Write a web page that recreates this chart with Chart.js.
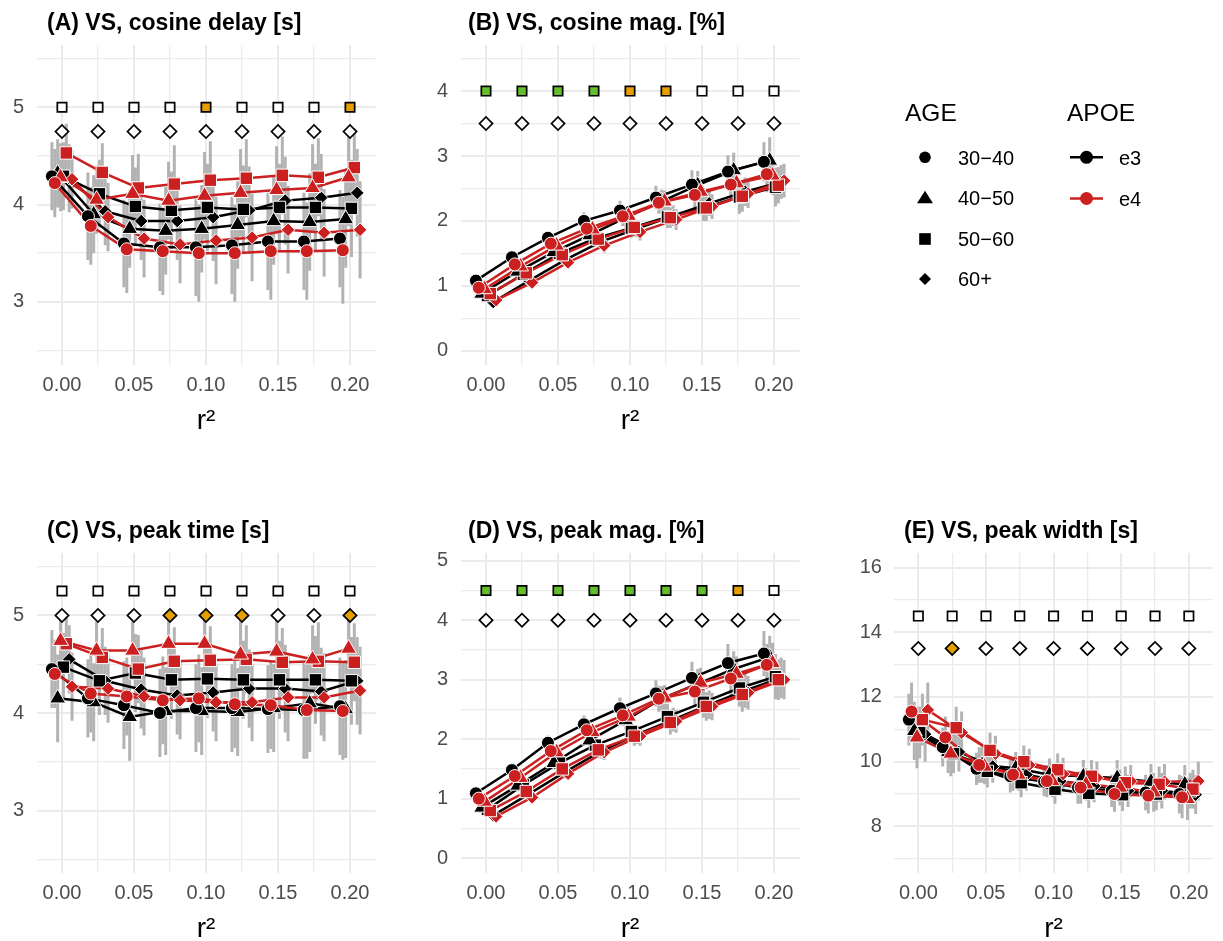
<!DOCTYPE html>
<html>
<head>
<meta charset="utf-8">
<script src="https://cdn.jsdelivr.net/npm/chart.js@4.4.1/dist/chart.umd.min.js"></script>
<style>
  html, body { margin: 0; padding: 0; background: #ffffff; }
  #wrap { position: relative; width: 1223px; height: 941px; overflow: hidden; background: #ffffff; }
  #wrap canvas, #wrap svg { position: absolute; }
</style>
</head>
<body>
<div id="wrap">
  <canvas id="cA" width="400" height="445" style="left:0px;top:0px"></canvas>
  <canvas id="cB" width="410" height="445" style="left:400px;top:0px"></canvas>
  <canvas id="cC" width="400" height="445" style="left:0px;top:508px"></canvas>
  <canvas id="cD" width="410" height="445" style="left:400px;top:508px"></canvas>
  <canvas id="cE" width="403" height="445" style="left:820px;top:508px"></canvas>
  <svg id="legend" width="1223" height="360" style="left:0px;top:0px"></svg>
</div>
<script>
// ---- categories -------------------------------------------------------
const R2 = [0, 0.025, 0.05, 0.075, 0.1, 0.125, 0.15, 0.175, 0.2];
const AGE_GROUPS = ['30\u221240', '40\u221250', '50\u221260', '60+'];
const APOE_LEVELS = ['e3', 'e4'];

// ---- (A) cosine delay [s]: rows = age groups -------------------------
const cosDelay_e3 = [
  [4.29, 3.88, 3.60, 3.56, 3.56, 3.58, 3.62, 3.62, 3.65],
  [4.32, 3.90, 3.75, 3.73, 3.75, 3.79, 3.83, 3.82, 3.85],
  [4.29, 4.11, 3.98, 3.94, 3.97, 3.95, 3.97, 3.97, 3.96],
  [4.27, 3.93, 3.83, 3.83, 3.87, 3.94, 4.04, 4.07, 4.12]
];
const cosDelay_e4 = [
  [4.22, 3.78, 3.54, 3.52, 3.50, 3.50, 3.52, 3.52, 3.53],
  [4.28, 4.05, 4.11, 4.04, 4.09, 4.12, 4.15, 4.17, 4.28],
  [4.53, 4.33, 4.17, 4.21, 4.25, 4.27, 4.30, 4.28, 4.38],
  [4.26, 3.87, 3.65, 3.59, 3.63, 3.66, 3.74, 3.71, 3.74]
];
const cosDelay_e3_err = [
  [0.35, 0.45, 0.45, 0.45, 0.50, 0.50, 0.50, 0.50, 0.50],
  [0.35, 0.40, 0.40, 0.45, 0.45, 0.45, 0.45, 0.50, 0.50],
  [0.35, 0.35, 0.40, 0.40, 0.45, 0.45, 0.45, 0.45, 0.50],
  [0.35, 0.35, 0.40, 0.40, 0.45, 0.45, 0.45, 0.45, 0.45]
];
const cosDelay_e4_err = [
  [0.35, 0.40, 0.45, 0.45, 0.50, 0.50, 0.50, 0.50, 0.55],
  [0.35, 0.35, 0.40, 0.40, 0.45, 0.45, 0.45, 0.45, 0.50],
  [0.30, 0.30, 0.35, 0.40, 0.40, 0.40, 0.40, 0.40, 0.40],
  [0.30, 0.35, 0.40, 0.40, 0.45, 0.45, 0.45, 0.45, 0.50]
];
const cosDelay_testSq = [0, 0, 0, 0, 1, 0, 0, 0, 1];
const cosDelay_testDi = [0, 0, 0, 0, 0, 0, 0, 0, 0];

// ---- (B) cosine magnitude [%] -----------------------------------------
const cosMag_e3 = [
  [1.08, 1.44, 1.74, 2.00, 2.16, 2.36, 2.56, 2.76, 2.91],
  [0.88, 1.22, 1.52, 1.78, 2.05, 2.30, 2.55, 2.78, 2.93],
  [0.85, 1.18, 1.50, 1.73, 1.89, 2.06, 2.20, 2.37, 2.52],
  [0.75, 1.08, 1.40, 1.68, 1.88, 2.08, 2.27, 2.45, 2.60]
];
const cosMag_e4 = [
  [0.97, 1.33, 1.65, 1.88, 2.07, 2.28, 2.40, 2.56, 2.72],
  [0.95, 1.30, 1.62, 1.87, 2.08, 2.30, 2.45, 2.58, 2.70],
  [0.88, 1.20, 1.48, 1.72, 1.90, 2.05, 2.20, 2.38, 2.55],
  [0.78, 1.05, 1.36, 1.62, 1.83, 2.02, 2.22, 2.42, 2.62]
];
const cosMag_e3_err = [
  [0.06, 0.08, 0.10, 0.13, 0.15, 0.18, 0.22, 0.25, 0.30],
  [0.05, 0.08, 0.10, 0.12, 0.15, 0.18, 0.22, 0.27, 0.36],
  [0.05, 0.08, 0.10, 0.12, 0.15, 0.17, 0.20, 0.26, 0.30],
  [0.05, 0.07, 0.09, 0.11, 0.13, 0.16, 0.19, 0.22, 0.26]
];
const cosMag_e4_err = [
  [0.06, 0.08, 0.10, 0.12, 0.15, 0.17, 0.20, 0.24, 0.28],
  [0.05, 0.07, 0.09, 0.12, 0.14, 0.17, 0.20, 0.24, 0.30],
  [0.05, 0.07, 0.09, 0.11, 0.14, 0.16, 0.20, 0.24, 0.28],
  [0.05, 0.07, 0.09, 0.11, 0.13, 0.16, 0.19, 0.22, 0.26]
];
const cosMag_testSq = [2, 2, 2, 2, 1, 1, 0, 0, 0];
const cosMag_testDi = [0, 0, 0, 0, 0, 0, 0, 0, 0];

// ---- (C) peak time [s] ------------------------------------------------
const peakTime_e3 = [
  [4.45, 4.15, 4.08, 4.00, 4.05, 4.05, 4.04, 4.03, 4.07],
  [4.15, 4.11, 3.96, 4.02, 4.02, 4.01, 4.05, 4.10, 4.04],
  [4.47, 4.33, 4.41, 4.34, 4.35, 4.34, 4.34, 4.34, 4.33],
  [4.55, 4.33, 4.24, 4.18, 4.21, 4.25, 4.25, 4.22, 4.33]
];
const peakTime_e4 = [
  [4.40, 4.20, 4.17, 4.13, 4.15, 4.09, 4.08, 4.03, 4.02],
  [4.74, 4.64, 4.64, 4.71, 4.71, 4.60, 4.63, 4.55, 4.66],
  [4.71, 4.57, 4.45, 4.53, 4.54, 4.55, 4.52, 4.53, 4.52],
  [4.27, 4.25, 4.17, 4.13, 4.11, 4.11, 4.16, 4.16, 4.23]
];
const peakTime_e3_err = [
  [0.40, 0.40, 0.45, 0.45, 0.45, 0.45, 0.45, 0.50, 0.50],
  [0.45, 0.40, 0.45, 0.45, 0.45, 0.45, 0.45, 0.50, 0.50],
  [0.35, 0.35, 0.40, 0.40, 0.40, 0.40, 0.40, 0.45, 0.45],
  [0.35, 0.35, 0.40, 0.40, 0.40, 0.40, 0.45, 0.45, 0.45]
];
const peakTime_e4_err = [
  [0.35, 0.40, 0.40, 0.45, 0.45, 0.45, 0.45, 0.50, 0.50],
  [0.30, 0.30, 0.30, 0.30, 0.30, 0.35, 0.35, 0.35, 0.35],
  [0.30, 0.30, 0.35, 0.35, 0.35, 0.35, 0.35, 0.40, 0.40],
  [0.35, 0.35, 0.40, 0.40, 0.40, 0.40, 0.45, 0.45, 0.45]
];
const peakTime_testSq = [0, 0, 0, 0, 0, 0, 0, 0, 0];
const peakTime_testDi = [0, 0, 0, 1, 1, 1, 0, 0, 1];

// ---- (D) peak magnitude [%] -------------------------------------------
const peakMag_e3 = [
  [1.09, 1.48, 1.94, 2.25, 2.52, 2.77, 3.03, 3.28, 3.44],
  [0.85, 1.22, 1.60, 1.98, 2.32, 2.68, 2.93, 3.18, 3.38],
  [0.82, 1.23, 1.60, 1.90, 2.13, 2.38, 2.62, 2.86, 3.05],
  [0.72, 1.08, 1.45, 1.80, 2.08, 2.33, 2.58, 2.82, 3.03]
];
const peakMag_e4 = [
  [1.00, 1.38, 1.80, 2.15, 2.40, 2.68, 2.80, 3.02, 3.25],
  [0.95, 1.35, 1.78, 2.12, 2.38, 2.70, 2.95, 3.10, 3.28],
  [0.80, 1.12, 1.50, 1.82, 2.05, 2.28, 2.55, 2.75, 3.00],
  [0.70, 1.02, 1.42, 1.78, 2.05, 2.30, 2.55, 2.78, 3.00]
];
const peakMag_e3_err = [
  [0.06, 0.09, 0.12, 0.15, 0.18, 0.22, 0.27, 0.32, 0.38],
  [0.05, 0.08, 0.11, 0.14, 0.17, 0.21, 0.25, 0.30, 0.36],
  [0.05, 0.08, 0.11, 0.14, 0.17, 0.21, 0.26, 0.31, 0.38],
  [0.05, 0.08, 0.10, 0.13, 0.16, 0.20, 0.24, 0.29, 0.34]
];
const peakMag_e4_err = [
  [0.06, 0.09, 0.12, 0.15, 0.18, 0.22, 0.26, 0.30, 0.35],
  [0.05, 0.08, 0.11, 0.14, 0.17, 0.21, 0.25, 0.29, 0.34],
  [0.05, 0.08, 0.10, 0.13, 0.16, 0.20, 0.24, 0.29, 0.34],
  [0.05, 0.07, 0.10, 0.13, 0.16, 0.19, 0.23, 0.28, 0.33]
];
const peakMag_testSq = [2, 2, 2, 2, 2, 2, 2, 1, 0];
const peakMag_testDi = [0, 0, 0, 0, 0, 0, 0, 0, 0];

// ---- (E) peak width [s] -----------------------------------------------
const peakWidth_e3 = [
  [11.30, 10.45, 9.78, 9.55, 9.38, 9.20, 9.10, 9.05, 9.00],
  [10.95, 10.30, 9.90, 9.80, 9.60, 9.55, 9.50, 9.38, 9.30],
  [10.90, 10.25, 9.70, 9.35, 9.15, 9.02, 8.98, 9.00, 9.10],
  [10.85, 10.30, 9.85, 9.60, 9.40, 9.25, 9.10, 9.10, 8.98]
];
const peakWidth_e4 = [
  [11.55, 10.75, 9.90, 9.60, 9.40, 9.20, 9.00, 8.95, 8.90],
  [10.75, 10.25, 9.85, 9.60, 9.40, 9.30, 9.20, 9.05, 8.85],
  [11.30, 11.05, 10.35, 10.00, 9.75, 9.55, 9.35, 9.30, 9.15],
  [11.60, 10.90, 10.25, 9.90, 9.62, 9.50, 9.40, 9.38, 9.40]
];
const peakWidth_e3_err = [
  [0.80, 0.60, 0.50, 0.50, 0.45, 0.50, 0.50, 0.55, 0.60],
  [0.90, 0.65, 0.55, 0.50, 0.50, 0.50, 0.55, 0.55, 0.60],
  [0.80, 0.60, 0.50, 0.45, 0.45, 0.45, 0.50, 0.50, 0.55],
  [0.85, 0.60, 0.50, 0.50, 0.45, 0.50, 0.50, 0.55, 0.60]
];
const peakWidth_e4_err = [
  [0.90, 0.65, 0.55, 0.50, 0.50, 0.50, 0.55, 0.55, 0.65],
  [0.95, 0.70, 0.55, 0.50, 0.50, 0.50, 0.55, 0.60, 0.65],
  [0.80, 0.65, 0.55, 0.50, 0.50, 0.50, 0.50, 0.55, 0.60],
  [0.85, 0.65, 0.55, 0.50, 0.50, 0.50, 0.50, 0.55, 0.60]
];
const peakWidth_testSq = [0, 0, 0, 0, 0, 0, 0, 0, 0];
const peakWidth_testDi = [0, 1, 0, 0, 0, 0, 0, 0, 0];

// ---- styling ----------------------------------------------------------
const FONT = '"Liberation Sans", Arial, Helvetica, sans-serif';
const APOE_COLOR = ['#000000', '#CC1F1F'];
const AGE_MARK = [
  { style: 'circle', r: 6.5 },
  { style: 'triangle', r: 9.2 },
  { style: 'rect', r: 8.8 },
  { style: 'rectRot', r: 6.8 }
];
const TEST_FILL = ['#FFFFFF', '#E69F00', '#63BE2B'];
const ERR_COLOR = '#B3B3B3';
const GRID_COLOR = '#EBEBEB';
const DODGE = 0.002;

function isMult(v, step) {
  const q = v / step;
  return Math.abs(q - Math.round(q)) < 1e-6;
}

// bold panel heading, drawn above the plotting area
const panelTitle = {
  id: 'panelTitle',
  afterDraw(chart, args, opts) {
    const ctx = chart.ctx;
    ctx.save();
    ctx.font = 'bold 23px ' + FONT;
    ctx.fillStyle = '#000000';
    ctx.textAlign = 'left';
    ctx.textBaseline = 'middle';
    ctx.fillText(opts.text, opts.x, opts.y);
    ctx.restore();
  }
};

function buildPanel(p) {
  const datasets = [];
  for (let a = 0; a < AGE_GROUPS.length; a++) {
    for (let g = 0; g < APOE_LEVELS.length; g++) {
      const k = a * 2 + g;
      const off = (k - 3.5) * DODGE;
      const vals = p.values[g][a];
      const errs = p.errs[g][a];
      const color = APOE_COLOR[g];
      const mark = AGE_MARK[a];

      // interval bars behind everything
      const bars = [];
      R2.forEach((x, i) => {
        bars.push({ x: x + off, y: vals[i] - errs[i] });
        bars.push({ x: x + off, y: vals[i] + errs[i] });
        bars.push({ x: x + off, y: null });
      });
      datasets.push({
        data: bars, showLine: true, spanGaps: false,
        borderColor: ERR_COLOR, borderWidth: 3, borderCapStyle: 'butt',
        pointRadius: 0, order: 100
      });

      const pts = R2.map((x, i) => ({ x: x + off, y: vals[i] }));
      // connecting line
      datasets.push({
        data: pts, showLine: true, borderColor: color, borderWidth: 2.5,
        pointRadius: 0, tension: 0, order: g === 0 ? 60 : 50
      });
      // group markers
      datasets.push({
        data: pts, showLine: false,
        pointStyle: mark.style, pointRadius: mark.r,
        pointBackgroundColor: color, pointBorderColor: '#FFFFFF', pointBorderWidth: 1,
        order: g === 0 ? 30 : 20
      });
    }
  }
  // test-result rows along the top
  datasets.push({
    data: R2.map(x => ({ x: x, y: p.rowSq })), showLine: false,
    pointStyle: 'rect', pointRadius: 6.6, pointBorderColor: '#000000', pointBorderWidth: 1.7,
    pointBackgroundColor: p.sq.map(s => TEST_FILL[s]), order: 5
  });
  datasets.push({
    data: R2.map(x => ({ x: x, y: p.rowDi })), showLine: false,
    pointStyle: 'rectRot', pointRadius: 6.6, pointBorderColor: '#000000', pointBorderWidth: 1.7,
    pointBackgroundColor: p.di.map(s => TEST_FILL[s]), order: 5
  });

  const tickFont = { family: FONT, size: 20 };
  new Chart(document.getElementById(p.id), {
    type: 'line',
    data: { datasets: datasets },
    plugins: [panelTitle],
    options: {
      responsive: false,
      animation: false,
      events: [],
      layout: { padding: { left: 0, top: 45, right: p.padRight, bottom: 0 } },
      plugins: {
        legend: { display: false },
        tooltip: { enabled: false },
        panelTitle: { text: p.title, x: p.titleX, y: 23.7 }
      },
      scales: {
        x: {
          type: 'linear', min: -0.0177, max: 0.2177,
          border: { display: false },
          grid: {
            color: GRID_COLOR, drawTicks: false,
            lineWidth: c => (c.tick && isMult(c.tick.value, 0.05)) ? 2 : 1.3
          },
          ticks: {
            stepSize: 0.025, includeBounds: false, autoSkip: false, maxRotation: 0,
            padding: 8, color: '#4D4D4D', font: tickFont,
            callback: v => isMult(v, 0.05) ? Number(v).toFixed(2) : ''
          },
          title: {
            display: true, text: 'r\u00B2', color: '#000000',
            font: { family: FONT, size: 28 }, padding: { top: 0, bottom: 7 }
          },
          afterFit: s => { s.height = 80; }
        },
        y: {
          type: 'linear', min: p.yMin, max: p.yMax,
          border: { display: false },
          grid: {
            color: GRID_COLOR, drawTicks: false,
            lineWidth: c => (c.tick && isMult(c.tick.value, p.yMajor)) ? 2 : 1.3
          },
          ticks: {
            stepSize: p.yStep, includeBounds: false, autoSkip: false, maxTicksLimit: 30,
            padding: 12.5, color: '#4D4D4D', font: tickFont,
            callback: v => isMult(v, p.yLabelEvery) ? String(Math.round(v)) : ''
          },
          afterFit: s => { s.width = p.yWidth; }
        }
      }
    }
  });
}

const PANELS = [
  { id: 'cA', title: '(A) VS, cosine delay [s]', titleX: 47,
    values: [cosDelay_e3, cosDelay_e4], errs: [cosDelay_e3_err, cosDelay_e4_err],
    sq: cosDelay_testSq, di: cosDelay_testDi, rowSq: 5, rowDi: 4.75,
    yMin: 2.35, yMax: 5.64, yStep: 0.5, yMajor: 1, yLabelEvery: 1, yWidth: 36.5, padRight: 24.5 },
  { id: 'cB', title: '(B) VS, cosine mag. [%]', titleX: 68,
    values: [cosMag_e3, cosMag_e4], errs: [cosMag_e3_err, cosMag_e4_err],
    sq: cosMag_testSq, di: cosMag_testDi, rowSq: 4, rowDi: 3.5,
    yMin: -0.22, yMax: 4.71, yStep: 0.5, yMajor: 1, yLabelEvery: 1, yWidth: 60.5, padRight: 10.5 },
  { id: 'cC', title: '(C) VS, peak time [s]', titleX: 47,
    values: [peakTime_e3, peakTime_e4], errs: [peakTime_e3_err, peakTime_e4_err],
    sq: peakTime_testSq, di: peakTime_testDi, rowSq: 5.25, rowDi: 5,
    yMin: 2.36, yMax: 5.64, yStep: 0.5, yMajor: 1, yLabelEvery: 1, yWidth: 36.5, padRight: 24.5 },
  { id: 'cD', title: '(D) VS, peak mag. [%]', titleX: 68,
    values: [peakMag_e3, peakMag_e4], errs: [peakMag_e3_err, peakMag_e4_err],
    sq: peakMag_testSq, di: peakMag_testDi, rowSq: 4.5, rowDi: 4,
    yMin: -0.25, yMax: 5.13, yStep: 0.5, yMajor: 1, yLabelEvery: 1, yWidth: 60.5, padRight: 10.5 },
  { id: 'cE', title: '(E) VS, peak width [s]', titleX: 84,
    values: [peakWidth_e3, peakWidth_e4], errs: [peakWidth_e3_err, peakWidth_e4_err],
    sq: peakWidth_testSq, di: peakWidth_testDi, rowSq: 14.5, rowDi: 13.5,
    yMin: 6.56, yMax: 16.45, yStep: 1, yMajor: 2, yLabelEvery: 2, yWidth: 74.4, padRight: 1.4 }
];
PANELS.forEach(buildPanel);

// ---- legend -----------------------------------------------------------
(function drawLegend() {
  const NS = 'http://www.w3.org/2000/svg';
  const svg = document.getElementById('legend');
  function el(tag, attrs, text) {
    const e = document.createElementNS(NS, tag);
    for (const k in attrs) e.setAttribute(k, attrs[k]);
    if (text !== undefined) e.textContent = text;
    svg.appendChild(e);
    return e;
  }
  const txt = { 'font-family': 'Liberation Sans, Arial, sans-serif', fill: '#000000' };
  el('text', Object.assign({ x: 905, y: 121, 'font-size': 24.5 }, txt), 'AGE');
  el('text', Object.assign({ x: 1067, y: 121, 'font-size': 24.5 }, txt), 'APOE');

  const ageY = [157.3, 197.3, 239, 279];
  const cx = 925;
  AGE_GROUPS.forEach((label, a) => {
    const cy = ageY[a];
    const style = AGE_MARK[a].style;
    if (style === 'circle') el('circle', { cx: cx, cy: cy, r: 5.8, fill: '#000' });
    if (style === 'triangle') el('polygon', { points: `${cx},${cy - 6.5} ${cx + 8},${cy + 6} ${cx - 8},${cy + 6}`, fill: '#000' });
    if (style === 'rect') el('rect', { x: cx - 5.8, y: cy - 5.8, width: 11.6, height: 11.6, fill: '#000' });
    if (style === 'rectRot') el('polygon', { points: `${cx},${cy - 6} ${cx + 6},${cy} ${cx},${cy + 6} ${cx - 6},${cy}`, fill: '#000' });
    el('text', Object.assign({ x: 958, y: cy + 7.2, 'font-size': 20 }, txt), label);
  });

  const apoeY = [157.3, 198.5];
  APOE_LEVELS.forEach((label, g) => {
    const cy = apoeY[g];
    el('line', { x1: 1070, y1: cy, x2: 1103, y2: cy, stroke: APOE_COLOR[g], 'stroke-width': 2.5 });
    el('circle', { cx: 1086.5, cy: cy, r: 6.5, fill: APOE_COLOR[g] });
    el('text', Object.assign({ x: 1119, y: cy + 7.2, 'font-size': 20 }, txt), label);
  });
})();
</script>
</body>
</html>
